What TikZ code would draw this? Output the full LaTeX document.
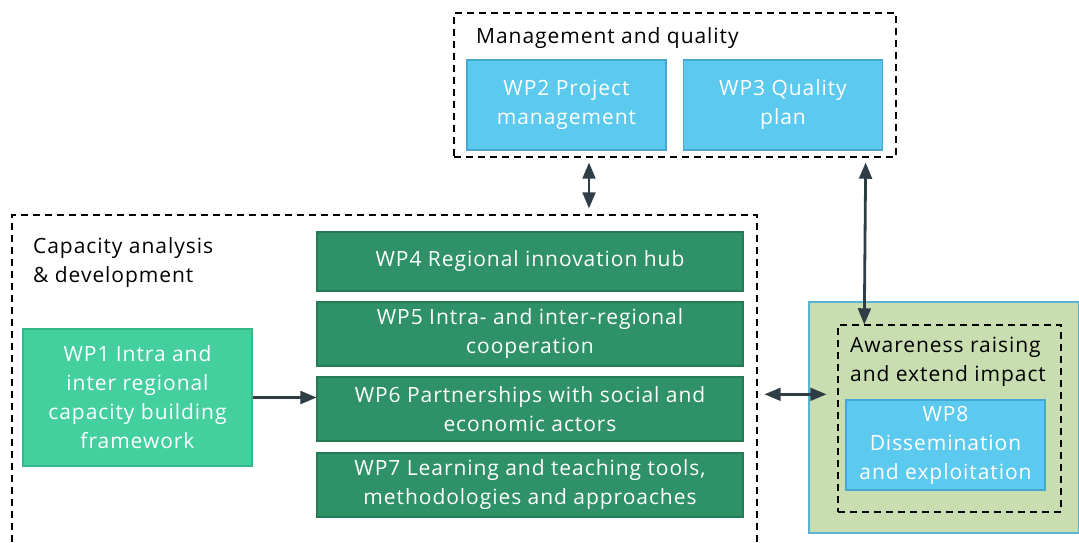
\documentclass[tikz,border=0pt]{standalone}
\usepackage{fontspec}
\setmainfont[LetterSpace=4.5]{Open Sans}
\usepackage{tikz}
\usetikzlibrary{arrows}
\usetikzlibrary{calc}
\definecolor{wpblue}{HTML}{5CC9EE}
\definecolor{wpblueline}{HTML}{45A8D2}
\definecolor{wpgreen}{HTML}{2E9168}
\definecolor{wpgreenline}{HTML}{237A55}
\definecolor{wplight}{HTML}{43CF9E}
\definecolor{wplightline}{HTML}{36B888}
\definecolor{awarefill}{HTML}{C9DEB0}
\definecolor{awareline}{HTML}{58B4CF}
\definecolor{arrowcol}{HTML}{2F3E46}

\begin{document}
\begin{tikzpicture}
[x=1pt,y=-1pt,
  wptext/.style={font=\fontsize{21}{29}\selectfont,align=center,text=white,inner sep=0pt},
  bluedecorate/.style={wptext,rectangle,fill=wpblue,draw=wpblueline,line width=1.2pt},
  greendecorate/.style={wptext,rectangle,fill=wpgreen,draw=wpgreenline,line width=1.2pt,
    minimum width=426pt},
  lightdecorate/.style={wptext,rectangle,fill=wplight,draw=wplightline,line width=1.2pt},
  groupdecorate/.style={rectangle,draw=black,line width=1.4pt,dash pattern=on 7pt off 5pt,
    inner sep=0pt},
  titledecorate/.style={font=\fontsize{21}{29}\selectfont,align=left,anchor=west,inner sep=0pt},
  linedecorate/.style={<->,>=triangle 45,draw=arrowcol,line width=2.8pt}]
\useasboundingbox (0,0) rectangle (1079,542);
%% groups
\node (award) at (944,417.5) [rectangle,fill=awarefill,draw=awareline,line width=1.4pt,
  minimum width=270pt,minimum height=231pt] {};
\node (mgmt) at (675,85) [groupdecorate,minimum width=442pt,minimum height=144pt] {};
\node (cap) at (384.5,390) [groupdecorate,minimum width=745pt,minimum height=350pt] {};
\node (aware) at (949.5,418.5) [groupdecorate,minimum width=223pt,minimum height=187pt] {};
\node (mgmttitle) at (476,38) [titledecorate] {Management and quality};
\node (captitle) at (33,263) [titledecorate] {Capacity analysis\\\& development};
\node (awaretitle) at (850,362) [titledecorate] {Awareness raising\\and extend impact};
%% work packages
\foreach \nodename/\x/\y/\wptitle in {wp2/566.5/105/{WP2 Project\\management},
  wp3/783/105/{WP3 Quality\\plan}, wp8/945.5/445/{WP8\\Dissemination\\and exploitation}}
{
  \node (\nodename) at (\x,\y) [bluedecorate,minimum width=199pt,minimum height=90pt] {\wptitle};
}
\foreach \nodename/\y/\h/\wptitle in {wp4/261.5/59/{WP4 Regional innovation hub},
  wp5/334/64/{WP5 Intra- and inter-regional\\cooperation},
  wp6/409/64/{WP6 Partnerships with social and\\economic actors},
  wp7/485/64/{WP7 Learning and teaching tools,\\methodologies and approaches}}
{
  \node (\nodename) at (530,\y) [greendecorate,minimum height=\h pt] {\wptitle};
}
\node (wp1) at (137.5,397.5) [lightdecorate,minimum width=229pt,minimum height=137pt]
  {WP1 Intra and\\inter regional\\capacity building\\framework};
%% edges
\coordinate (mgmtlink) at (589,0);
\draw[linedecorate,shorten <=5pt,shorten >=6pt] (mgmt.south -| mgmtlink) -- (cap.north -| mgmtlink);
\draw[linedecorate,shorten <=5pt] ($(mgmt.south east)+(-31,0)$) -- ($(aware.north west)+(27,0)$);
\draw[linedecorate,shorten <=7pt,shorten >=11pt] ($(cap.north east)+(0,180)$) -- ($(aware.north west)+(0,70)$);
\draw[linedecorate,<-] (wp1.east -| wp6.west) -- (wp1.east);
\end{tikzpicture}
\end{document}
